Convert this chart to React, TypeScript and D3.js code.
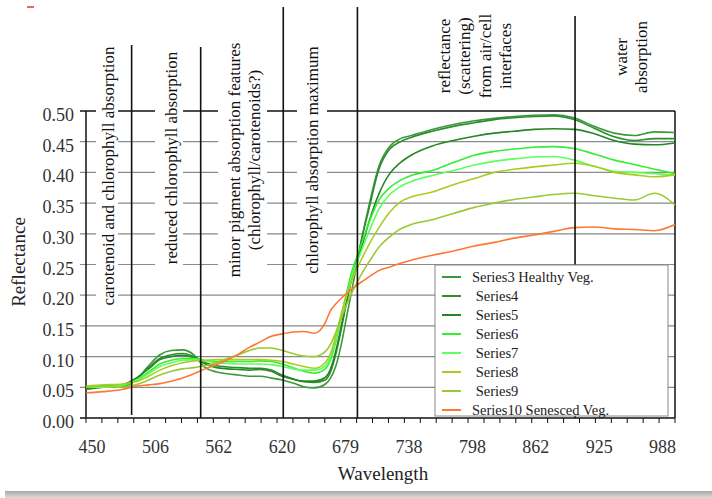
import React from "react";
import * as d3 from "d3";

// wavelength sample grid (nm) shared by every series
const wavelengths = [445, 460, 475, 490, 500, 510, 520, 530, 540, 550, 560, 570, 580, 590, 600, 610, 620, 630, 640, 650,
  660, 665, 670, 675, 680, 685, 690, 695, 700, 710, 720, 730, 740, 760, 780, 800, 820, 840, 860, 880, 900,
  920, 940, 960, 980, 1000];

const series3 = [0.048, 0.052, 0.05, 0.064, 0.085, 0.103, 0.11, 0.111, 0.103, 0.082, 0.075, 0.072, 0.07, 0.068, 0.068, 0.065, 0.062, 0.057, 0.051, 0.049,
  0.055, 0.065, 0.085, 0.12, 0.165, 0.21, 0.255, 0.3, 0.34, 0.41, 0.442, 0.455, 0.46, 0.47, 0.478, 0.484, 0.488, 0.491, 0.493, 0.494, 0.489,
  0.475, 0.464, 0.46, 0.466, 0.465];
const series4 = [0.05, 0.05, 0.052, 0.065, 0.082, 0.097, 0.103, 0.105, 0.1, 0.09, 0.085, 0.083, 0.082, 0.081, 0.081, 0.078, 0.07, 0.064, 0.059, 0.058,
  0.062, 0.075, 0.105, 0.145, 0.19, 0.23, 0.26, 0.3, 0.335, 0.405, 0.438, 0.45, 0.457, 0.467, 0.475, 0.481, 0.486, 0.489, 0.491, 0.492, 0.486,
  0.472, 0.458, 0.452, 0.455, 0.455];
const series5 = [0.047, 0.05, 0.053, 0.066, 0.08, 0.095, 0.1, 0.102, 0.098, 0.088, 0.082, 0.08, 0.079, 0.078, 0.079, 0.076, 0.068, 0.063, 0.06, 0.06,
  0.066, 0.08, 0.11, 0.15, 0.19, 0.23, 0.258, 0.285, 0.315, 0.365, 0.398, 0.416, 0.428, 0.443, 0.452, 0.459, 0.464, 0.467, 0.47, 0.471, 0.47,
  0.463, 0.452, 0.446, 0.445, 0.448];
const series6 = [0.05, 0.053, 0.052, 0.063, 0.075, 0.088, 0.094, 0.097, 0.097, 0.094, 0.092, 0.092, 0.092, 0.092, 0.093, 0.092, 0.088, 0.082, 0.076, 0.073,
  0.08, 0.095, 0.125, 0.165, 0.205, 0.24, 0.265, 0.29, 0.315, 0.355, 0.375, 0.387, 0.395, 0.403, 0.416, 0.428, 0.434, 0.438, 0.441, 0.442, 0.439,
  0.43, 0.42, 0.413, 0.405, 0.398];
const series7 = [0.05, 0.05, 0.053, 0.062, 0.072, 0.084, 0.09, 0.094, 0.095, 0.093, 0.09, 0.089, 0.088, 0.088, 0.088, 0.087, 0.084, 0.08, 0.078, 0.078,
  0.085, 0.1, 0.13, 0.168, 0.2, 0.232, 0.255, 0.278, 0.3, 0.34, 0.364, 0.377, 0.385, 0.395, 0.403, 0.412, 0.418, 0.422, 0.425, 0.426, 0.42,
  0.41, 0.402, 0.4, 0.398, 0.396];
const series8 = [0.052, 0.054, 0.055, 0.06, 0.068, 0.078, 0.085, 0.09, 0.093, 0.094, 0.095, 0.095, 0.095, 0.095, 0.095, 0.094, 0.092, 0.088, 0.084, 0.081,
  0.09, 0.105, 0.135, 0.17, 0.2, 0.225, 0.245, 0.263, 0.28, 0.31, 0.335, 0.352, 0.36, 0.368, 0.38, 0.39, 0.4, 0.405, 0.409, 0.412, 0.415,
  0.41, 0.4, 0.396, 0.393, 0.396];
const series9 = [0.05, 0.052, 0.05, 0.055, 0.062, 0.07, 0.076, 0.08, 0.082, 0.085, 0.09, 0.097, 0.103, 0.11, 0.114, 0.114, 0.11, 0.105, 0.101, 0.1,
  0.108, 0.12, 0.14, 0.163, 0.185, 0.205, 0.222, 0.238, 0.252, 0.278, 0.295, 0.308, 0.315, 0.323, 0.333, 0.343, 0.35, 0.356, 0.36, 0.364, 0.366,
  0.362, 0.358, 0.355, 0.366, 0.347];
const series10 = [0.041, 0.043, 0.046, 0.052, 0.054, 0.056, 0.06, 0.065, 0.072, 0.08, 0.087, 0.095, 0.104, 0.115, 0.124, 0.133, 0.137, 0.14, 0.141, 0.138,
  0.155, 0.175, 0.186, 0.195, 0.203, 0.21, 0.217, 0.223, 0.229, 0.24, 0.246, 0.252, 0.257, 0.265, 0.272, 0.28, 0.286, 0.293, 0.298, 0.304, 0.31,
  0.311, 0.308, 0.307, 0.305, 0.315];

const seriesNames = ["Series3 Healthy Veg.", " Series4", " Series5", " Series6", " Series7", " Series8", " Series9", "Series10 Senesced Veg."];
const seriesValues = [series3, series4, series5, series6, series7, series8, series9, series10];
const seriesColors = ["#3a9a3a", "#2e8b2e", "#238823", "#33ee33", "#5cff5c", "#aacc22", "#9cc832", "#ff7733"];

const xTickLabels = [450, 506, 562, 620, 679, 738, 798, 862, 925, 988];
const yTickValues = [0, 0.05, 0.1, 0.15, 0.2, 0.25, 0.3, 0.35, 0.4, 0.45, 0.5];

// boundaries between spectral regions (nm)
const regionBounds = [485, 546, 621, 690, 901];
const regionLineTops = [45, 47, 7, 7, 16];
const regionLabels = [
  ["carotenoid and chlorophyll absorption"],
  ["reduced chlorophyll absorption"],
  ["minor pigment absorption features", "(chlorophyll/carotenoids?)"],
  ["chlorophyll absorption maximum"],
  ["reflectance", "(scattering)", "from air/cell", "interfaces"],
  ["water", "absorption"],
];
// layout: baseline x of first line, centre y, white box behind text (x0, x1, y0, y1)
const regionLayout = [
  { bx: 114, cy: 176, box: [96, 118, 42, 310] },
  { bx: 177, cy: 158, box: [155, 183, 46, 270] },
  { bx: 240, cy: 160, box: [218, 267, 38, 282] },
  { bx: 318, cy: 160, box: [297, 327, 44, 276] },
  { bx: 450, cy: 56, box: null },
  { bx: 627, cy: 57, box: null },
];

const FONT = "'Liberation Serif', 'Times New Roman', serif";

export default function App() {
  const width = 712;
  const height = 498;
  const left = 86, right = 675, top = 111, bottom = 418;

  const x = d3
    .scaleLinear()
    .domain([444.7, ...xTickLabels, 1000])
    .range([left, ...xTickLabels.map((_, i) => left + 6 + i * 63.4), right]);
  const y = d3.scaleLinear().domain([0, 0.5]).range([bottom, top]);

  const line = d3
    .line<number>()
    .x((_, i) => x(wavelengths[i]))
    .y((d) => y(d))
    .curve(d3.curveMonotoneX);

  const tickCount = 37;
  const minorTicks = d3.range(tickCount + 1).map((i) => left + (i * (right - left)) / tickCount);

  return (
    <svg width={width} height={height} style={{ position: "absolute", left: 0, top: 0, background: "#fff" }} fontFamily={FONT}>
      <defs>
        <linearGradient id="shadow" x1="0" y1="0" x2="0" y2="1">
          <stop offset="0" stopColor="#a8a8a8" />
          <stop offset="1" stopColor="#dcdcdc" />
        </linearGradient>
      </defs>
      <rect x={0} y={0} width={width} height={height} fill="#fff" />
      <rect x={5} y={491} width={width - 5} height={7} fill="url(#shadow)" />
      <line x1={27} x2={34} y1={7} y2={7} stroke="#d33" strokeWidth={1.5} />

      {/* horizontal gridlines */}
      {yTickValues.map((v) => (
        <g key={v}>
          <line x1={80} x2={v === 0.5 || v === 0 ? right : right} y1={y(v)} y2={y(v)}
            stroke={v === 0.5 || v === 0 ? "#111" : "#8a8a8a"} strokeWidth={v === 0.5 || v === 0 ? 1.5 : 1.2} />
          <text x={74} y={y(v) + 10} textAnchor="end" fontSize={18} fill="#333">{d3.format(".2f")(v)}</text>
        </g>
      ))}

      {/* white boxes behind region labels */}
      {regionLayout.map((r, i) =>
        r.box ? (
          <rect key={i} x={r.box[0]} y={r.box[2]} width={r.box[1] - r.box[0]} height={r.box[3] - r.box[2]} fill="#fff" />
        ) : null
      )}

      {/* axes */}
      <line x1={left} x2={left} y1={top} y2={bottom} stroke="#111" strokeWidth={1.5} />
      <line x1={right} x2={right} y1={top} y2={bottom} stroke="#111" strokeWidth={1.5} />
      {minorTicks.map((t, i) => (
        <line key={i} x1={t} x2={t} y1={bottom} y2={bottom + 5} stroke="#111" strokeWidth={1} />
      ))}
      {xTickLabels.map((w) => (
        <text key={w} x={x(w)} y={453} textAnchor="middle" fontSize={18} fill="#333">{w}</text>
      ))}

      {/* spectra */}
      {seriesValues.map((vals, i) => (
        <path key={i} d={line(vals) || ""} fill="none" stroke={seriesColors[i]} strokeWidth={1.6} />
      ))}

      {/* region boundaries */}
      {regionBounds.map((b, i) => (
        <line key={b} x1={x(b)} x2={x(b)} y1={regionLineTops[i]} y2={i === 0 ? bottom - 3 : bottom} stroke="#111" strokeWidth={1.6} />
      ))}

      {/* region labels */}
      {regionLabels.map((lines, i) => (
        <text key={i} transform={`translate(${regionLayout[i].bx},${regionLayout[i].cy}) rotate(-90)`}
          textAnchor="middle" fontSize={17} fill="#111">
          {lines.map((l, j) => (
            <tspan key={j} x={0} y={j * 20.3}>{l}</tspan>
          ))}
        </text>
      ))}

      {/* legend */}
      <rect x={435} y={265} width={233} height={151} fill="#fff" stroke="#888" strokeWidth={1} />
      {seriesNames.map((name, i) => (
        <g key={name} transform={`translate(0,${277 + i * 19})`}>
          <line x1={442} x2={461} y1={0} y2={0} stroke={seriesColors[i]} strokeWidth={2} />
          <text x={472} y={5} fontSize={14.5} fill="#222" style={{ whiteSpace: "pre" }}>{name}</text>
        </g>
      ))}

      {/* axis titles */}
      <text transform="translate(25,262) rotate(-90)" textAnchor="middle" fontSize={19} fill="#222">Reflectance</text>
      <text x={383} y={480} textAnchor="middle" fontSize={19} fill="#222">Wavelength</text>
    </svg>
  );
}
